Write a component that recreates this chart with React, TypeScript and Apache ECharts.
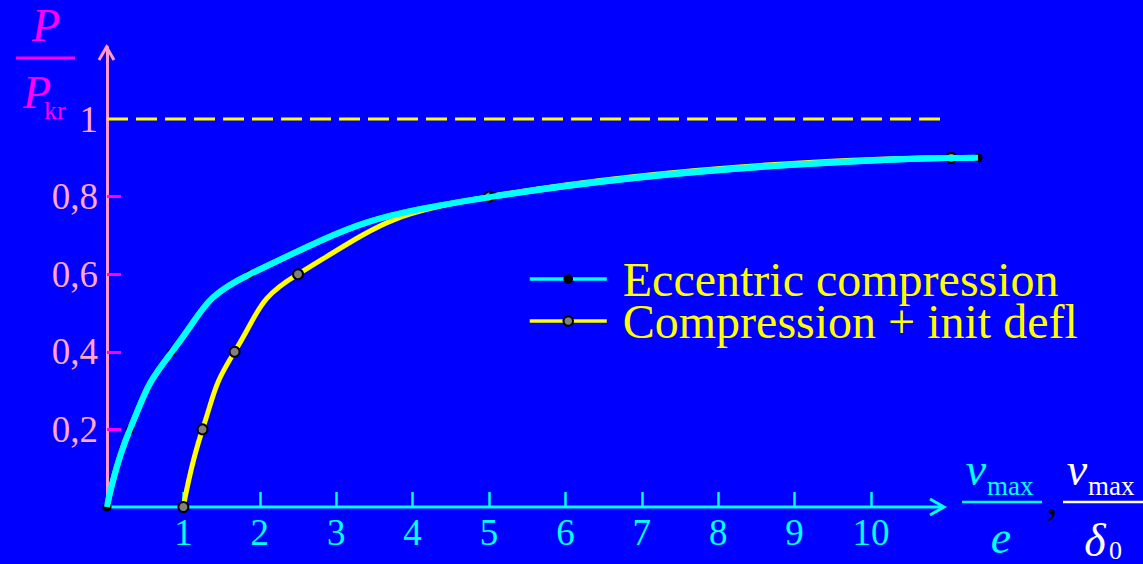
import React, { useEffect, useRef } from 'react';
import * as echarts from 'echarts';

// Data
const seriesNames = ['Eccentric compression', 'Compression + init defl'];
const eccentricData = [[0, 0], [0.3, 0.2], [0.85, 0.4], [1.87, 0.6], [5.05, 0.8], [11.4, 0.9]];
const deflectionData = [[1, 0], [1.25, 0.2], [1.67, 0.4], [2.5, 0.6], [5, 0.8], [11.05, 0.9]];
const limitData = [[0, 1], [10.98, 1]];
const xTickValues = [1, 2, 3, 4, 5, 6, 7, 8, 9, 10];
const yTickValues = [0.2, 0.4, 0.6, 0.8];
const yLabelValues = [0.2, 0.4, 0.6, 0.8, 1];

const FONT = '"Liberation Serif", "Times New Roman", serif';
const BLUE = '#0000FF';
const CYAN = '#00FFFF';
const YELLOW = '#FFFF00';
const PINK = '#FF99CC';
const PINK_LABEL = '#FFA6C9';
const MAGENTA = '#FF00FF';

const PX_PER_X = 76.4;
const X_MAX = 11.6;

export default function App() {
  const ref = useRef<HTMLDivElement>(null);
  useEffect(() => {
    if (!ref.current) return;
    const chart = echarts.init(ref.current, undefined, { renderer: 'svg' });
    const txt = (text: string, x: number, y: number, size: number, fill: string, opts: any = {}) => ({
      type: 'text',
      x,
      y,
      silent: true,
      z: 10,
      style: {
        text,
        fill,
        font: `${opts.italic ? 'italic ' : ''}${size}px ${FONT}`,
        align: opts.align || 'center',
        verticalAlign: 'middle',
      },
    });
    const legendCommon = {
      left: 528,
      padding: 0,
      itemWidth: 77,
      itemHeight: 12,
      lineStyle: { width: 3.5 },
      textStyle: { color: YELLOW, fontFamily: FONT, fontSize: 48, lineHeight: 40, padding: [0, 0, 0, 11] },
    };
    const gridLeft = 107;
    const gridRight = 1143 - (gridLeft + X_MAX * PX_PER_X);
    const option: any = {
      animation: false,
      backgroundColor: BLUE,
      grid: { left: gridLeft, top: 47, right: gridRight, bottom: 57, containLabel: false },
      xAxis: {
        type: 'value',
        min: 0,
        max: X_MAX,
        splitLine: { show: false },
        axisLine: { show: false },
        axisTick: {
          show: true,
          inside: true,
          length: 15,
          customValues: xTickValues,
          lineStyle: { color: CYAN, width: 2.5 },
        },
        axisLabel: {
          customValues: xTickValues,
          color: CYAN,
          fontFamily: FONT,
          fontSize: 37,
          margin: 7,
        },
      },
      yAxis: {
        type: 'value',
        min: 0,
        max: 460 / 388,
        splitLine: { show: false },
        axisLine: { show: true, lineStyle: { color: PINK, width: 3 } },
        axisTick: {
          show: true,
          inside: true,
          length: 14,
          customValues: yTickValues,
          lineStyle: { color: MAGENTA, width: 3 },
        },
        axisLabel: {
          customValues: yLabelValues,
          color: PINK_LABEL,
          fontFamily: FONT,
          fontSize: 37,
          margin: 9,
          formatter: (v: number) => String(Math.round(v * 10) / 10).replace('.', ','),
        },
      },
      legend: [
        { ...legendCommon, data: [seriesNames[0]], top: 255 },
        { ...legendCommon, data: [seriesNames[1]], top: 297 },
      ],
      series: [
        {
          name: 'limit',
          type: 'line',
          data: limitData,
          clip: false,
          showSymbol: false,
          silent: true,
          z: 1,
          lineStyle: { color: YELLOW, width: 3, type: [21, 8] },
        },
        {
          name: seriesNames[1],
          type: 'line',
          data: deflectionData,
          clip: false,
          smooth: 0.5,
          symbol: 'circle',
          symbolSize: 10,
          z: 2,
          itemStyle: { color: '#808080', borderColor: '#000000', borderWidth: 2 },
          lineStyle: { color: YELLOW, width: 5 },
        },
        {
          name: seriesNames[0],
          type: 'line',
          data: eccentricData,
          clip: false,
          smooth: 0.5,
          symbol: 'circle',
          symbolSize: 9,
          z: 3,
          itemStyle: { color: '#000000' },
          lineStyle: { color: CYAN, width: 6 },
        },
        {
          name: 'eccentric-top',
          type: 'line',
          data: eccentricData,
          clip: false,
          smooth: 0.5,
          showSymbol: false,
          silent: true,
          z: 4,
          lineStyle: { color: CYAN, width: 6 },
        },
      ],
      graphic: [
        // x-axis line with open arrow
        {
          type: 'line',
          silent: true,
          z: 0,
          shape: { x1: 107, y1: 507, x2: 943, y2: 507 },
          style: { stroke: CYAN, lineWidth: 3 },
        },
        {
          type: 'polyline',
          silent: true,
          shape: { points: [[930, 499], [944, 507], [930, 515]] },
          style: { stroke: CYAN, lineWidth: 3, fill: null },
        },
        // y-axis arrow
        {
          type: 'polyline',
          silent: true,
          shape: { points: [[99, 60], [106.5, 47], [114, 60]] },
          style: { stroke: PINK, lineWidth: 3, fill: null },
        },
        // y title P / P_kr
        txt('P', 46, 25, 46, MAGENTA, { italic: true }),
        { type: 'line', silent: true, shape: { x1: 16, y1: 58, x2: 75, y2: 58 }, style: { stroke: MAGENTA, lineWidth: 3 } },
        txt('P', 37, 92, 46, MAGENTA, { italic: true }),
        txt('kr', 44, 110, 26, MAGENTA, { align: 'left' }),
        // x title v_max / e
        txt('v', 976, 469, 46, CYAN, { italic: true }),
        txt('max', 987, 486, 27, CYAN, { align: 'left' }),
        { type: 'line', silent: true, shape: { x1: 962, y1: 502, x2: 1042, y2: 502 }, style: { stroke: CYAN, lineWidth: 2.5 } },
        txt('e', 1001, 537, 46, CYAN, { italic: true }),
        txt(',', 1052, 498, 46, '#000000'),
        // v_max / delta_0
        txt('v', 1077, 469, 46, '#FFFFFF', { italic: true }),
        txt('max', 1088, 486, 27, '#FFFFFF', { align: 'left' }),
        { type: 'line', silent: true, shape: { x1: 1063, y1: 502, x2: 1143, y2: 502 }, style: { stroke: '#FFFFFF', lineWidth: 2.5 } },
        txt('δ', 1095, 540, 46, '#FFFFFF', { italic: true }),
        txt('0', 1109, 550, 26, '#FFFFFF', { align: 'left' }),
      ],
    };
    chart.setOption(option);
    return () => chart.dispose();
  }, []);
  return (
    <div
      ref={ref}
      style={{ position: 'fixed', left: 0, top: 0, width: 1143, height: 564, background: BLUE }}
    />
  );
}
